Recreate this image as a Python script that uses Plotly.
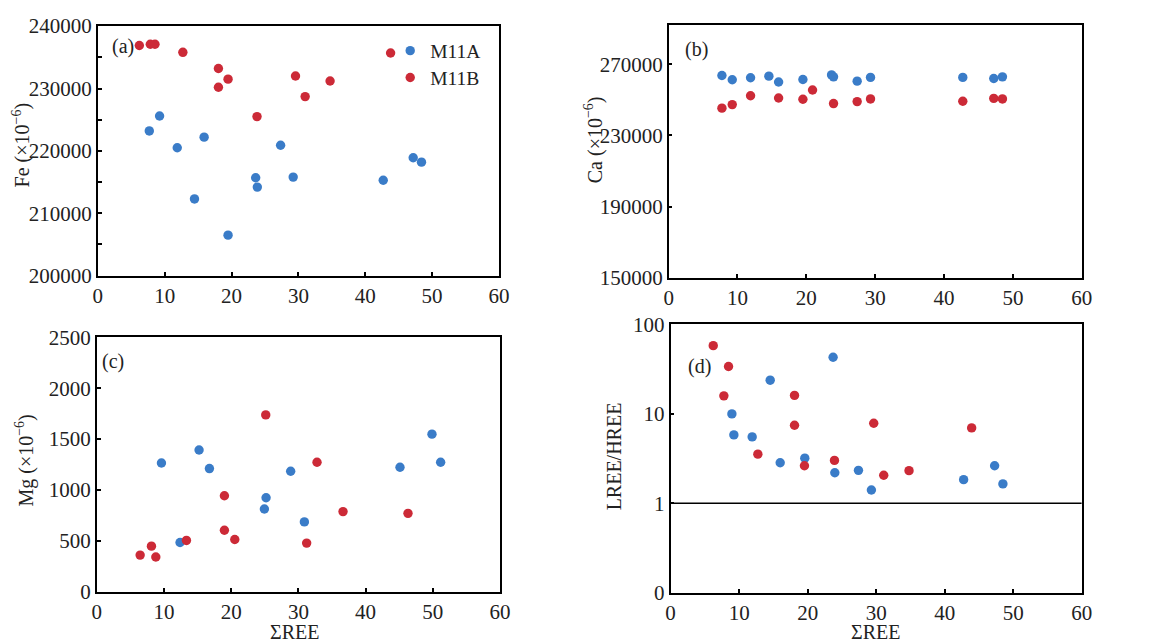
import plotly.graph_objects as go

# ---------------- data ----------------
# Panel (a) Fe vs ΣREE
a_m11a_ree = [7.7, 9.24, 11.88, 14.46, 15.9, 19.48, 23.61, 23.86, 27.34, 29.22, 42.69, 47.17, 48.41]
a_m11a_val = [223200, 225600, 220500, 212300, 222200, 206500, 215700, 214200, 220900, 215800, 215300, 218900, 218200]
a_m11b_ree = [6.21, 7.85, 8.55, 12.72, 18.04, 18.04, 19.48, 23.81, 29.57, 31.01, 34.74, 43.79]
a_m11b_val = [236900, 237100, 237100, 235800, 233200, 230200, 231500, 225500, 232000, 228700, 231200, 235700]

# Panel (b) Ca vs ΣREE
b_m11a_ree = [7.74, 9.24, 11.9, 14.56, 15.97, 19.5, 23.66, 23.95, 27.38, 29.32, 42.72, 47.22, 48.48]
b_m11a_val = [263700, 261300, 262400, 263300, 260000, 261400, 264000, 262900, 260500, 262600, 262600, 262000, 262900]
b_m11b_ree = [7.74, 9.24, 11.9, 15.97, 19.5, 20.9, 23.95, 27.38, 29.32, 42.72, 47.22, 48.48]
b_m11b_val = [245300, 247300, 252300, 251000, 250300, 255500, 247900, 249000, 250500, 249200, 250800, 250500]

# Panel (c) Mg vs ΣREE
c_m11a_ree = [9.62, 12.39, 15.22, 16.76, 24.94, 25.19, 28.85, 30.89, 45.12, 49.88, 51.17]
c_m11a_val = [1266, 485, 1393, 1211, 814, 924, 1185, 687, 1224, 1549, 1273]
c_m11b_ree = [6.45, 8.13, 8.78, 13.34, 18.99, 18.99, 20.53, 25.14, 32.77, 31.23, 36.64, 46.31]
c_m11b_val = [361, 449, 342, 505, 944, 605, 514, 1738, 1273, 479, 788, 771]

# Panel (d) LREE/HREE vs ΣREE
d_m11a_ree = [8.94, 9.23, 11.9, 14.53, 15.99, 19.58, 23.71, 23.96, 27.41, 29.3, 42.76, 47.28, 48.49]
d_m11a_val = [10.0, 5.82, 5.53, 23.8, 2.84, 3.2, 42.9, 2.2, 2.34, 1.41, 1.84, 2.63, 1.65]
d_m11b_ree = [6.22, 8.45, 7.77, 12.73, 18.08, 18.08, 19.53, 23.91, 29.64, 31.1, 34.79, 43.93]
d_m11b_val = [57.9, 33.8, 15.9, 3.55, 16.1, 7.46, 2.63, 3.02, 7.85, 2.06, 2.32, 6.97]

series_names = ["M11A", "M11B"]
x_ticks = [0, 10, 20, 30, 40, 50, 60]
fe_ticks = [200000, 210000, 220000, 230000, 240000]
ca_ticks = [150000, 190000, 230000, 270000]
mg_ticks = [0, 500, 1000, 1500, 2000, 2500]
ratio_tickvals = [0.1, 1, 10, 100]
ratio_ticktext = ["0", "1", "10", "100"]
ref_ratio = 1
x_range = [0, 60]

# ---------------- style ----------------
BLUE = "#3a7cc8"
RED = "#cc2a37"
FONT = "Liberation Serif, Times New Roman, serif"
TXT = "#222"
W, H = 1150, 639

# the photographed page appears slightly shrunk; map wanted picture pixels to page pixels
SX, OX, SY, OY = 0.989, 3.0, 0.968, 9.8


def qx(x):
    return (x - OX) / SX


def qy(y):
    return (y - OY) / SY


def px_x(a, b):
    return [qx(a) / W, min(qx(b) / W, 1)]


def px_y(top, bottom):
    return [max(1 - qy(bottom) / H, 0), min(1 - qy(top) / H, 1)]


fig = go.Figure()

panels = [
    ("x", "y", a_m11a_ree, a_m11a_val, a_m11b_ree, a_m11b_val, True),
    ("x2", "y2", b_m11a_ree, b_m11a_val, b_m11b_ree, b_m11b_val, False),
    ("x3", "y3", c_m11a_ree, c_m11a_val, c_m11b_ree, c_m11b_val, False),
    ("x4", "y4", d_m11a_ree, d_m11a_val, d_m11b_ree, d_m11b_val, False),
]

# reference line in (d)
fig.add_trace(go.Scatter(x=x_range, y=[ref_ratio, ref_ratio], mode="lines",
                         line=dict(color="black", width=1.5), xaxis="x4", yaxis="y4",
                         showlegend=False, hoverinfo="skip"))

for xa, ya, ax_, ay_, bx_, by_, show in panels:
    fig.add_trace(go.Scatter(x=ax_, y=ay_, mode="markers", name=series_names[0],
                             marker=dict(color=BLUE, size=9.4), xaxis=xa, yaxis=ya,
                             showlegend=show, legend="legend"))
    fig.add_trace(go.Scatter(x=bx_, y=by_, mode="markers", name=series_names[1],
                             marker=dict(color=RED, size=9.4), xaxis=xa, yaxis=ya,
                             showlegend=show, legend="legend2"))

axis_common = dict(showline=True, linecolor="black", linewidth=1.6, mirror=True,
                   ticks="inside", ticklen=4, tickwidth=1.5, tickcolor="black",
                   showgrid=False, zeroline=False, tickformat="d",
                   tickfont=dict(family=FONT, size=21, color=TXT))

legend_common = dict(x=qx(389) / W, xanchor="left", yanchor="middle",
                     bgcolor="rgba(0,0,0,0)", font=dict(family=FONT, size=19.5, color=TXT),
                     itemwidth=30)

layout = dict(
    width=W, height=H, margin=dict(l=0, r=0, t=0, b=0),
    paper_bgcolor="white", plot_bgcolor="white",
    font=dict(family=FONT, size=20, color=TXT),
    showlegend=True,
    legend=dict(y=1 - qy(49) / H, **legend_common),
    legend2=dict(y=1 - qy(76) / H, **legend_common),
)

layout["xaxis"] = dict(domain=px_x(96, 498), anchor="y", range=x_range, tickvals=x_ticks, **axis_common)
layout["yaxis"] = dict(domain=px_y(24, 275), anchor="x", range=[200000, 240000], tickvals=fe_ticks,
                       minor=dict(ticks="inside", ticklen=4, tickwidth=1.5, tickcolor="black", dtick=5000),
                       **axis_common)
layout["xaxis2"] = dict(domain=px_x(668, 1082), anchor="y2", range=x_range, tickvals=x_ticks, **axis_common)
layout["yaxis2"] = dict(domain=px_y(23, 277), anchor="x2", range=[150000, 292000], tickvals=ca_ticks, **axis_common)
layout["xaxis3"] = dict(domain=px_x(95, 499), anchor="y3", range=x_range, tickvals=x_ticks, **axis_common)
layout["yaxis3"] = dict(domain=px_y(337, 593), anchor="x3", range=[0, 2500], tickvals=mg_ticks, **axis_common)
layout["xaxis4"] = dict(domain=px_x(670, 1082), anchor="y4", range=x_range, tickvals=x_ticks, **axis_common)
axis_log = dict(axis_common)
axis_log.pop("tickformat")
layout["yaxis4"] = dict(domain=px_y(324, 594), anchor="x4", type="log", range=[-1, 2],
                        tickvals=ratio_tickvals, ticktext=ratio_ticktext, **axis_log)

fig.update_layout(**layout)


def ann(text, x, y, angle=0, size=20, yanchor="middle"):
    fig.add_annotation(text=text, x=qx(x) / W, y=1 - qy(y) / H, xref="paper", yref="paper",
                       showarrow=False, textangle=angle, xanchor="center", yanchor=yanchor,
                       font=dict(family=FONT, size=size, color=TXT))


# panel labels
ann("(a)", 121, 45)
ann("(b)", 696, 48)
ann("(c)", 111, 361)
ann("(d)", 699, 366)

# axis titles
ann("Fe (×10<sup>−6</sup>)", 19, 143, angle=-90)
ann("Ca (×10<sup>−6</sup>)", 593, 138, angle=-90)
ann("Mg (×10<sup>−6</sup>)", 23, 461, angle=-90)
ann("LREE/HREE", 613, 457, angle=-90)
ann("ΣREE", 293, 620, yanchor="top")
ann("ΣREE", 875, 620, yanchor="top")

page_css = ("document.documentElement.style.margin='0';"
            "document.documentElement.style.overflow='hidden';"
            "document.body.style.margin='0';"
            "document.body.style.overflow='hidden';")

fig.write_html("out.html", config={"displayModeBar": False}, post_script=page_css)
